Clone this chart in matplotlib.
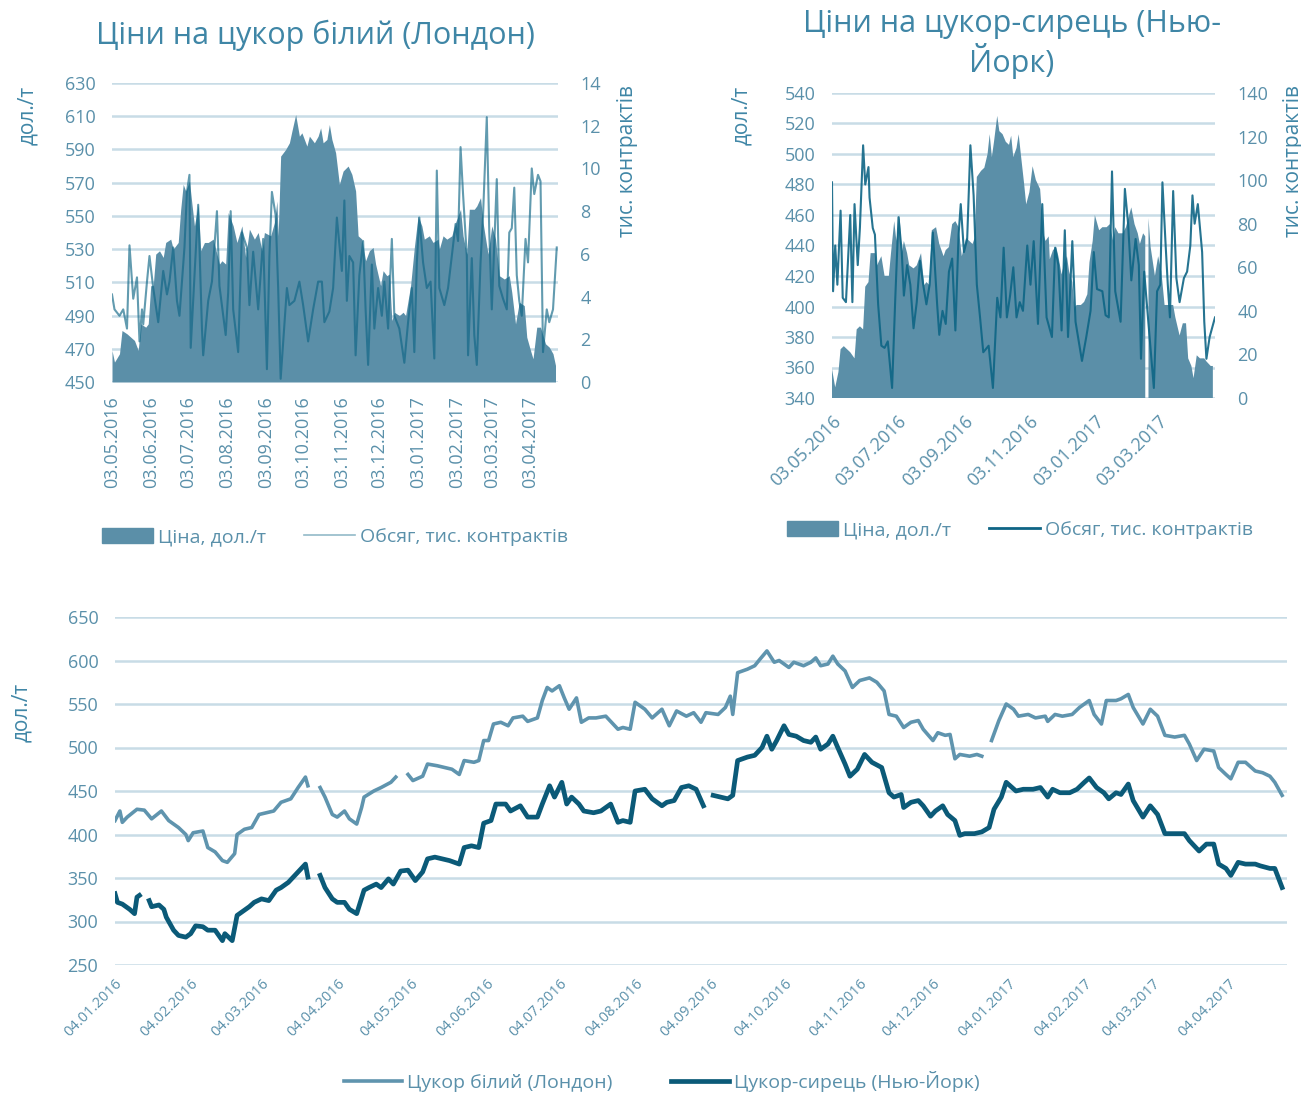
import numpy as np
import pandas as pd
import matplotlib.pyplot as plt
from matplotlib.patches import Patch
from matplotlib.lines import Line2D

plt.rcParams['font.family'] = ['Open Sans', 'DejaVu Sans']

# ---- дані ----
base_day = '2016-01-04'   # початок нижнього графіка
top_start = 120           # 03.05.2016 у днях від base_day
top_len = 357             # тривалість верхніх графіків, днів

# ціни, дол./т (день від 04.01.2016)
ldn_days = [0, 2, 3, 5, 9, 12, 15, 19, 22, 26, 29, 30, 32, 36, 38, 41, 44, 46, 49, 50,
            53, 56, 59, 62, 65, 68, 72, 75, 78, 79, 81, 84, 86, 89, 91, 94, 96, 99, 101, 102,
            106, 109, 113, 115, 117, 120, 122, 126, 128, 132, 135, 138, 141, 143, 147, 149, 151, 153, 155, 158,
            161, 163, 167, 169, 173, 175, 177, 179, 182, 184, 186, 189, 191, 194, 197, 201, 203, 206, 208, 211,
            213, 217, 220, 224, 227, 230, 234, 237, 240, 242, 247, 250, 252, 253, 255, 259, 262, 264, 267, 270,
            272, 276, 278, 282, 285, 287, 289, 292, 294, 296, 299, 302, 305, 309, 312, 315, 317, 320, 323, 326,
            329, 331, 335, 337, 340, 342, 344, 346, 350, 353, 355, 357, 359, 362, 365, 368, 370, 374, 377, 381,
            382, 385, 388, 392, 395, 399, 401, 404, 406, 410, 412, 415, 417, 421, 424, 427, 430, 434, 438, 440,
            443, 446, 450, 452, 455, 457, 460, 463, 467, 470, 473, 475, 478]
ldn_price = [416, 427, 414, 420, 429, 428, 418, 427, 416, 408, 400, 393, 402, 404, 385, 380, 370, 368, 378, 400,
             406, 408, 423, 425, 427, 437, 441, 454, 466, 456, np.nan, 454, 443, 423, 420, 427, 418, 412, 431, 443,
             450, 454, 460, 466, np.nan, 469, 462, 467, 481, 479, 477, 475, 469, 485, 483, 485, 508, 508, 527, 529,
             525, 534, 536, 530, 534, 554, 569, 565, 571, 557, 544, 557, 529, 534, 534, 536, 530, 521, 523, 521,
             552, 544, 534, 544, 525, 542, 536, 540, 529, 540, 538, 546, 559, 538, 586, 590, 594, 601, 611, 598,
             600, 592, 598, 594, 598, 603, 594, 596, 605, 596, 588, 569, 577, 580, 575, 565, 538, 536, 523, 529,
             531, 521, 508, 517, 514, 515, 487, 492, 490, 492, 490, np.nan, 508, 531, 550, 544, 536, 538, 534, 536,
             530, 538, 536, 538, 546, 554, 538, 527, 554, 554, 556, 561, 546, 527, 544, 536, 514, 512, 514, 504,
             485, 498, 496, 477, 469, 464, 483, 483, 473, 471, 467, 460, 445]

ny_days = [0, 1, 3, 6, 8, 9, 10, 12, 14, 15, 18, 20, 21, 24, 26, 29, 31, 33, 36, 38,
           41, 44, 45, 48, 50, 52, 55, 57, 60, 63, 66, 68, 71, 73, 75, 78, 79, 81, 84, 86,
           89, 91, 94, 96, 99, 102, 104, 107, 109, 112, 114, 117, 120, 123, 126, 128, 131, 134, 137, 141,
           143, 146, 149, 151, 154, 156, 160, 162, 166, 169, 173, 175, 178, 180, 183, 185, 187, 190, 192, 196,
           199, 202, 203, 206, 208, 211, 213, 217, 220, 224, 226, 229, 232, 235, 238, 241, 243, 245, 248, 251,
           253, 255, 259, 262, 265, 267, 269, 271, 274, 276, 279, 282, 285, 287, 289, 292, 294, 296, 299, 301,
           304, 307, 310, 314, 317, 319, 322, 323, 326, 329, 331, 334, 336, 339, 341, 344, 346, 348, 352, 355,
           358, 360, 363, 365, 369, 372, 376, 379, 382, 384, 387, 391, 394, 397, 399, 402, 405, 407, 410, 412,
           415, 417, 421, 424, 427, 430, 434, 438, 440, 444, 447, 450, 452, 455, 457, 460, 463, 467, 469, 473,
           475, 478]
ny_price = [332, 322, 320, 314, 309, 328, 330, np.nan, 324, 317, 319, 314, 305, 290, 284, 282, 286, 295, 294, 290,
            290, 278, 286, 278, 307, 311, 317, 322, 326, 324, 336, 339, 345, 351, 357, 366, 351, np.nan, 353, 339,
            326, 322, 322, 314, 309, 336, 339, 343, 339, 349, 343, 358, 359, 347, 357, 372, 374, 372, 370, 366,
            385, 387, 385, 413, 416, 435, 435, 427, 433, 420, 420, 435, 456, 443, 460, 435, 443, 435, 427, 425,
            427, 433, 435, 414, 416, 414, 450, 452, 441, 433, 437, 439, 454, 456, 452, 433, np.nan, 445, 443, 441,
            445, 485, 489, 491, 500, 513, 498, 508, 525, 515, 513, 508, 506, 512, 498, 504, 513, 500, 481, 467,
            475, 492, 483, 477, 448, 443, 446, 431, 437, 439, 433, 421, 427, 433, 423, 416, 399, 401, 401, 403,
            408, 429, 443, 460, 450, 452, 452, 454, 443, 452, 448, 448, 452, 460, 465, 454, 448, 441, 448, 446,
            458, 439, 420, 433, 423, 401, 401, 401, 393, 381, 389, 389, 366, 361, 353, 368, 366, 366, 364, 361,
            361, 339]
ny_no_trade = [413]   # 20.02.2017 - торгів у Нью-Йорку не було

# обсяги, тис. контрактів (день від 03.05.2016)
ldn_vol_days = [0, 2, 6, 9, 12, 14, 17, 20, 22, 24, 25, 28, 30, 33, 37, 41, 44, 46, 49, 52,
                54, 58, 60, 62, 63, 66, 69, 72, 73, 77, 80, 84, 86, 91, 93, 95, 97, 101, 104, 108,
                110, 113, 117, 121, 124, 126, 128, 131, 133, 135, 140, 142, 146, 150, 153, 157, 161, 165, 168, 170,
                174, 177, 180, 184, 186, 188, 190, 193, 195, 198, 201, 203, 205, 208, 210, 213, 216, 218, 221, 224,
                226, 230, 234, 237, 240, 242, 244, 246, 249, 252, 255, 258, 260, 262, 266, 269, 272, 275, 277, 279,
                281, 284, 285, 288, 290, 292, 295, 297, 300, 302, 304, 308, 310, 313, 316, 318, 320, 322, 324, 326,
                328, 331, 333, 336, 338, 341, 343, 345, 348, 350, 353, 356]
ldn_vol = [4.1, 3.4, 3.1, 3.4, 2.5, 6.4, 3.9, 4.9, 1.9, 3.4, 2.7, 4.7, 5.9, 4.4, 2.8, 5.2, 4.1, 4.7, 6.3, 3.8,
           3.1, 6.3, 8.9, 9.7, 1.6, 5.0, 8.3, 2.5, 1.25, 3.8, 4.7, 8.0, 4.5, 2.2, 4.2, 8.0, 3.4, 1.4, 7.0, 6.3,
           3.6, 6.1, 3.4, 6.7, 0.6, 5.9, 8.9, 7.8, 4.4, 0.15, 4.4, 3.6, 3.8, 4.7, 3.6, 1.9, 3.4, 4.7, 4.7, 2.8,
           3.3, 4.4, 7.7, 5.2, 8.5, 3.8, 5.9, 5.6, 1.25, 5.0, 6.6, 3.4, 0.8, 5.5, 2.5, 4.4, 3.1, 4.7, 2.5, 6.7,
           3.1, 2.5, 0.9, 2.8, 4.4, 1.4, 5.6, 7.7, 5.6, 4.4, 4.7, 1.1, 9.9, 4.4, 3.6, 4.4, 5.9, 7.4, 6.6, 11.0,
           8.8, 5.9, 1.25, 5.8, 2.2, 0.8, 5.6, 7.8, 12.4, 7.0, 3.4, 9.5, 4.5, 3.9, 3.4, 7.0, 7.2, 9.1, 5.0, 3.8,
           3.1, 6.7, 5.6, 10.0, 8.8, 9.7, 9.4, 1.4, 3.4, 2.8, 3.4, 6.3]

ny_vol_days = [0, 1, 3, 5, 8, 10, 13, 17, 19, 21, 24, 26, 29, 31, 34, 35, 38, 40, 43, 46,
               49, 52, 56, 59, 62, 65, 67, 70, 73, 76, 79, 82, 85, 88, 91, 94, 98, 100, 103, 106,
               109, 112, 115, 118, 120, 123, 126, 129, 132, 135, 138, 141, 146, 150, 154, 157, 160, 163, 166, 169,
               172, 175, 178, 182, 185, 188, 192, 196, 200, 205, 208, 211, 214, 217, 220, 224, 227, 233, 237, 241,
               244, 247, 252, 255, 258, 261, 264, 269, 273, 276, 279, 283, 286, 288, 291, 295, 300, 303, 306, 308,
               311, 313, 315, 318, 321, 324, 328, 331, 334, 336, 338, 341, 345, 347, 349, 352, 357]
ny_vol = [99, 49, 70, 52, 86, 46, 44, 84, 44, 89, 61, 78, 116, 98, 106, 92, 78, 75, 43, 24,
          23, 26, 4.6, 46, 83, 67, 47, 61, 52, 32, 44, 63, 52, 43, 52, 76, 43, 29, 40, 34,
          58, 64, 31, 75, 89, 67, 73, 116, 93, 52, 37, 21, 24, 4.6, 46, 37, 69, 37, 47, 60,
          37, 44, 40, 70, 52, 72, 34, 89, 37, 28, 69, 61, 31, 77, 28, 72, 35, 17, 28, 40,
          67, 50, 49, 38, 37, 104, 49, 35, 96, 80, 54, 73, 61, 18, 58, 34, 4.6, 49, 52, 99,
          70, 52, 37, 95, 55, 44, 55, 58, 70, 93, 80, 89, 67, 35, 18, 28, 37]

tl_ticks = ['03.05.2016', '03.06.2016', '03.07.2016', '03.08.2016', '03.09.2016', '03.10.2016',
            '03.11.2016', '03.12.2016', '03.01.2017', '03.02.2017', '03.03.2017', '03.04.2017']
tr_ticks = ['03.05.2016', '03.07.2016', '03.09.2016', '03.11.2016', '03.01.2017', '03.03.2017']
bot_ticks = ['04.01.2016', '04.02.2016', '04.03.2016', '04.04.2016', '04.05.2016', '04.06.2016',
             '04.07.2016', '04.08.2016', '04.09.2016', '04.10.2016', '04.11.2016', '04.12.2016',
             '04.01.2017', '04.02.2017', '04.03.2017', '04.04.2017']

# ---- кольори ----
AREA = '#5b8fa8'
VOL = '#0e6585'
LDN = '#5f94ae'
NY = '#0b5a78'
GRID = '#c8dce6'
TEXT = '#3f86a6'
TICK = '#5a90aa'

W, H = 1301, 1093
fig = plt.figure(figsize=(W / 100, H / 100), dpi=100)
base = pd.Timestamp(base_day)
top0 = base + pd.Timedelta(days=top_start)


def box(l, t, r, b):
    return [l / W, 1 - b / H, (r - l) / W, (b - t) / H]


def to_dates(start, days):
    return start + pd.to_timedelta(np.array(days), unit='D')


def style(ax, ymin, ymax, step):
    ax.set_ylim(ymin, ymax)
    ax.set_yticks(np.arange(ymin, ymax + 1, step))
    ax.grid(axis='y', color=GRID, lw=1.8)
    ax.grid(axis='x', visible=False)
    ax.set_axisbelow(True)
    for s in ax.spines.values():
        s.set_visible(False)
    ax.tick_params(length=0, colors=TICK, labelsize=13)
    ax.tick_params(axis='y', pad=12)


def top_panel(rect, days, price, vdays, vol, ylim, ystep, vmax, vstep, ticks, rot, vlw, valpha, gaps=()):
    ax = fig.add_axes(rect)
    d = np.array(days, dtype=float)
    p = np.array(price, dtype=float)
    m = (d >= top_start) & (d <= top_start + top_len) & ~np.isnan(p)
    d, p = d[m], p[m]
    # дні без торгів - розрив у площі
    for g in gaps:
        i = np.searchsorted(d, g)
        d = np.insert(d, i, g)
        p = np.insert(p, i, np.nan)
    ax.fill_between(to_dates(base, d), ylim[0], p, color=AREA, lw=0, zorder=2)
    style(ax, ylim[0], ylim[1], ystep)
    ax.set_xlim(top0, top0 + pd.Timedelta(days=top_len))
    tk = pd.to_datetime(ticks, format='%d.%m.%Y')
    ax.set_xticks(tk)
    if rot == 90:
        ax.set_xticklabels(ticks, rotation=90, va='top', ha='center')
    else:
        ax.set_xticklabels(ticks, rotation=rot, ha='right', rotation_mode='anchor')
    ax.tick_params(axis='x', pad=10)

    ax2 = ax.twinx()
    ax2.plot(to_dates(top0, vdays), vol, color=VOL, lw=vlw, alpha=valpha)
    ax2.set_ylim(0, vmax)
    ax2.set_yticks(np.arange(0, vmax + 1, vstep))
    for s in ax2.spines.values():
        s.set_visible(False)
    ax2.tick_params(length=0, colors=TICK, labelsize=13, pad=16)
    return ax, ax2


leg_kw = dict(loc='center', ncol=2, frameon=False, fontsize=14, handlelength=2.6,
              handleheight=0.8, columnspacing=2.0, handletextpad=0.25, labelcolor=TICK)

# Лондон
top_panel(box(112, 83, 558, 382), ldn_days, ldn_price, ldn_vol_days, ldn_vol,
          (450, 630), 20, 14, 2, tl_ticks, 90, 1.5, 0.65)
fig.text(315 / W, 1 - 35 / H, 'Ціни на цукор білий (Лондон)', ha='center', va='center',
         fontsize=22, color=TEXT)
fig.text(28 / W, 1 - 115 / H, 'дол./т', rotation=90, ha='center', va='center', fontsize=15, color=TEXT)
fig.text(628 / W, 1 - 161 / H, 'тис. контрактів', rotation=90, ha='center', va='center',
         fontsize=15, color=TEXT)
fig.legend([Patch(color=AREA), Line2D([], [], color=VOL, alpha=0.45, lw=1.2)],
           ['Ціна, дол./т', 'Обсяг, тис. контрактів'],
           bbox_to_anchor=(335 / W, 1 - 537 / H), **leg_kw)

# Нью-Йорк
top_panel(box(832, 93, 1215, 398), ny_days, ny_price, ny_vol_days, ny_vol,
          (340, 540), 20, 140, 20, tr_ticks, 45, 1.5, 0.9, gaps=ny_no_trade)
fig.text(1012 / W, 1 - 44 / H, 'Ціни на цукор-сирець (Нью-\nЙорк)', ha='center', va='center',
         fontsize=22, color=TEXT, linespacing=1.15)
fig.text(742 / W, 1 - 115 / H, 'дол./т', rotation=90, ha='center', va='center', fontsize=15, color=TEXT)
fig.text(1293 / W, 1 - 161 / H, 'тис. контрактів', rotation=90, ha='center', va='center',
         fontsize=15, color=TEXT)
fig.legend([Patch(color=AREA), Line2D([], [], color=VOL, lw=2)],
           ['Ціна, дол./т', 'Обсяг, тис. контрактів'],
           bbox_to_anchor=(1020 / W, 1 - 530 / H), **leg_kw)

# порівняння
ax = fig.add_axes(box(115, 617, 1287, 965))
ax.plot(to_dates(base, ldn_days), ldn_price, color=LDN, lw=2.6, label='Цукор білий (Лондон)')
ax.plot(to_dates(base, ny_days), ny_price, color=NY, lw=3.4, label='Цукор-сирець (Нью-Йорк)')
style(ax, 250, 650, 50)
ax.set_xlim(base, base + pd.Timedelta(days=480))
ax.set_xticks(pd.to_datetime(bot_ticks, format='%d.%m.%Y'))
ax.set_xticklabels(bot_ticks, rotation=45, ha='right', rotation_mode='anchor', fontsize=10.5)
ax.tick_params(axis='x', pad=8)
fig.text(22 / W, 1 - 712 / H, 'дол./т', rotation=90, ha='center', va='center', fontsize=15, color=TEXT)
bl = dict(leg_kw)
bl.update(handlelength=3.0, columnspacing=3.0)
fig.legend(bbox_to_anchor=(662 / W, 1 - 1082 / H), **bl)

fig.savefig('out.png', dpi=100)
